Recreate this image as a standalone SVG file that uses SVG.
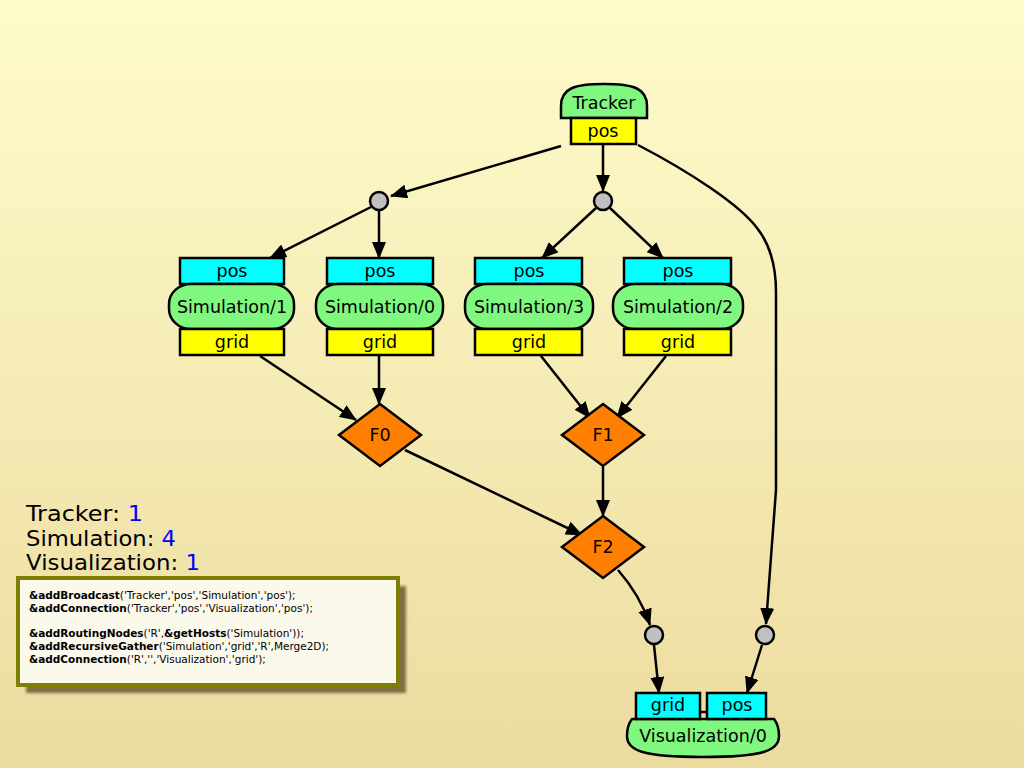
<svg xmlns="http://www.w3.org/2000/svg" width="1024" height="768" viewBox="0 0 1024 768">
<defs>
<linearGradient id="bg" x1="0" y1="0" x2="0" y2="1">
<stop offset="0" stop-color="#fefccb"/>
<stop offset="1" stop-color="#ecdb9f"/>
</linearGradient>
<marker id="ah" markerWidth="17" markerHeight="14" refX="16" refY="7" orient="auto" markerUnits="userSpaceOnUse">
<path d="M0,0 L17,7 L0,14 Z" fill="#000"/>
</marker>
<filter id="sh" x="-10%" y="-10%" width="130%" height="130%">
<feGaussianBlur stdDeviation="1.5"/>
</filter>
</defs>
<style>
.lbl{font-family:"DejaVu Sans","Liberation Sans",sans-serif;font-size:17.5px;fill:#000;text-anchor:middle}
.port{stroke:#000;stroke-width:2.5}
.cy{fill:#00ffff}
.ye{fill:#ffff00}
.gr{fill:#80f880;stroke:#000;stroke-width:2.5}
.dia{fill:#ff8000;stroke:#000;stroke-width:2.5}
.dot{fill:#c0c0c0;stroke:#000;stroke-width:2.5}
.edge{fill:none;stroke:#000;stroke-width:2.5;marker-end:url(#ah)}
.cnt{font-family:"DejaVu Sans","Liberation Sans",sans-serif;font-size:21px;fill:#000}
.num{fill:#0000ff}
.code{font-family:"DejaVu Sans","Liberation Sans",sans-serif;font-size:10.5px;fill:#000}
.b{font-weight:bold}
</style>
<rect width="1024" height="768" fill="url(#bg)"/>

<g id="connectors">
<path class="edge" d="M561,146 L391,196"/>
<path class="edge" d="M603,145 L603,191"/>
<path class="edge" d="M638,145 C690,172 740,205 757,228 Q776,252 776,292 L776,490 L766,624"/>
<path class="edge" d="M371,207 L270,258"/>
<path class="edge" d="M379,210 L379,258"/>
<path class="edge" d="M596,208 L542,258"/>
<path class="edge" d="M610,208 L663,258"/>
<path class="edge" d="M260,356 L356,420"/>
<path class="edge" d="M379,356 L379,404"/>
<path class="edge" d="M541,356 L590,418"/>
<path class="edge" d="M666,356 L617,418"/>
<path class="edge" d="M603,467 L603,516"/>
<path class="edge" d="M405,450 L582,535"/>
<path class="edge" d="M618,570 Q640,595 650,625"/>
<path class="edge" d="M654,645 L659,693"/>
<path class="edge" d="M762,645 L747,693"/>
<line x1="700" y1="712" x2="707" y2="712" stroke="#000" stroke-width="2.5"/>
</g>

<g id="tracker">
<path class="gr" d="M561,118 L561,106 C561,88 575,84 604,84 C633,84 647,88 647,106 L647,118 Z"/>
<text class="lbl" x="604" y="109">Tracker</text>
<rect class="port ye" x="571" y="118" width="65" height="26"/>
<text class="lbl" x="603" y="137">pos</text>
</g>

<g id="dot1"><circle class="dot" cx="379" cy="201" r="9"/></g>
<g id="dot2"><circle class="dot" cx="603" cy="201" r="9"/></g>
<g id="dot3"><circle class="dot" cx="654" cy="635" r="9"/></g>
<g id="dot4"><circle class="dot" cx="765" cy="635" r="9"/></g>

<g id="sim1">
<rect class="port cy" x="180" y="258" width="104" height="26"/>
<text class="lbl" x="232" y="277">pos</text>
<rect class="gr" x="169" y="284" width="125" height="45" rx="22" ry="20"/>
<text class="lbl" x="232" y="313">Simulation/1</text>
<rect class="port ye" x="180" y="329" width="104" height="26"/>
<text class="lbl" x="232" y="348">grid</text>
</g>
<g id="sim0">
<rect class="port cy" x="327" y="258" width="106" height="26"/>
<text class="lbl" x="380" y="277">pos</text>
<rect class="gr" x="316" y="284" width="127" height="45" rx="22" ry="20"/>
<text class="lbl" x="380" y="313">Simulation/0</text>
<rect class="port ye" x="327" y="329" width="106" height="26"/>
<text class="lbl" x="380" y="348">grid</text>
</g>
<g id="sim3">
<rect class="port cy" x="475" y="258" width="107" height="26"/>
<text class="lbl" x="529" y="277">pos</text>
<rect class="gr" x="465" y="284" width="128" height="45" rx="22" ry="20"/>
<text class="lbl" x="529" y="313">Simulation/3</text>
<rect class="port ye" x="475" y="329" width="107" height="26"/>
<text class="lbl" x="529" y="348">grid</text>
</g>
<g id="sim2">
<rect class="port cy" x="624" y="258" width="107" height="26"/>
<text class="lbl" x="678" y="277">pos</text>
<rect class="gr" x="613" y="284" width="130" height="45" rx="22" ry="20"/>
<text class="lbl" x="678" y="313">Simulation/2</text>
<rect class="port ye" x="624" y="329" width="107" height="26"/>
<text class="lbl" x="678" y="348">grid</text>
</g>

<g id="F0">
<path class="dia" d="M380,404 L421,435 L380,466 L339,435 Z"/>
<text class="lbl" x="380" y="441">F0</text>
</g>
<g id="F1">
<path class="dia" d="M603,404 L644,435 L603,466 L562,435 Z"/>
<text class="lbl" x="603" y="441">F1</text>
</g>
<g id="F2">
<path class="dia" d="M603,516 L644,547 L603,578 L562,547 Z"/>
<text class="lbl" x="603" y="553">F2</text>
</g>

<g id="visualization">
<path class="gr" d="M632,719 L774,719 C778,724 779,730 779,736 C779,750 765,757 703,757 C641,757 627,750 627,736 C627,730 628,724 632,719 Z"/>
<text class="lbl" x="703" y="742">Visualization/0</text>
<rect class="port cy" x="636" y="693" width="64" height="26"/>
<text class="lbl" x="668" y="711">grid</text>
<rect class="port cy" x="707" y="693" width="59" height="26"/>
<text class="lbl" x="737" y="711">pos</text>
</g>

<g id="counts">
<text class="cnt" x="26" y="521" textLength="117" lengthAdjust="spacingAndGlyphs">Tracker: <tspan class="num">1</tspan></text>
<text class="cnt" x="26" y="546" textLength="150" lengthAdjust="spacingAndGlyphs">Simulation: <tspan class="num">4</tspan></text>
<text class="cnt" x="26" y="570" textLength="174" lengthAdjust="spacingAndGlyphs">Visualization: <tspan class="num">1</tspan></text>
</g>

<g id="codebox">
<rect x="26" y="586" width="380" height="107" fill="#5a4a20" opacity="0.75" filter="url(#sh)"/>
<rect x="18" y="578" width="380" height="107" fill="#fbf8ec" stroke="#808000" stroke-width="4"/>
<text class="code" x="29" y="599"><tspan class="b">&amp;addBroadcast</tspan>('Tracker','pos','Simulation','pos');</text>
<text class="code" x="29" y="612"><tspan class="b">&amp;addConnection</tspan>('Tracker','pos','Visualization','pos');</text>
<text class="code" x="29" y="637"><tspan class="b">&amp;addRoutingNodes</tspan>('R',<tspan class="b">&amp;getHosts</tspan>('Simulation'));</text>
<text class="code" x="29" y="650"><tspan class="b">&amp;addRecursiveGather</tspan>('Simulation','grid','R',Merge2D);</text>
<text class="code" x="29" y="663"><tspan class="b">&amp;addConnection</tspan>('R','','Visualization','grid');</text>
</g>
</svg>
